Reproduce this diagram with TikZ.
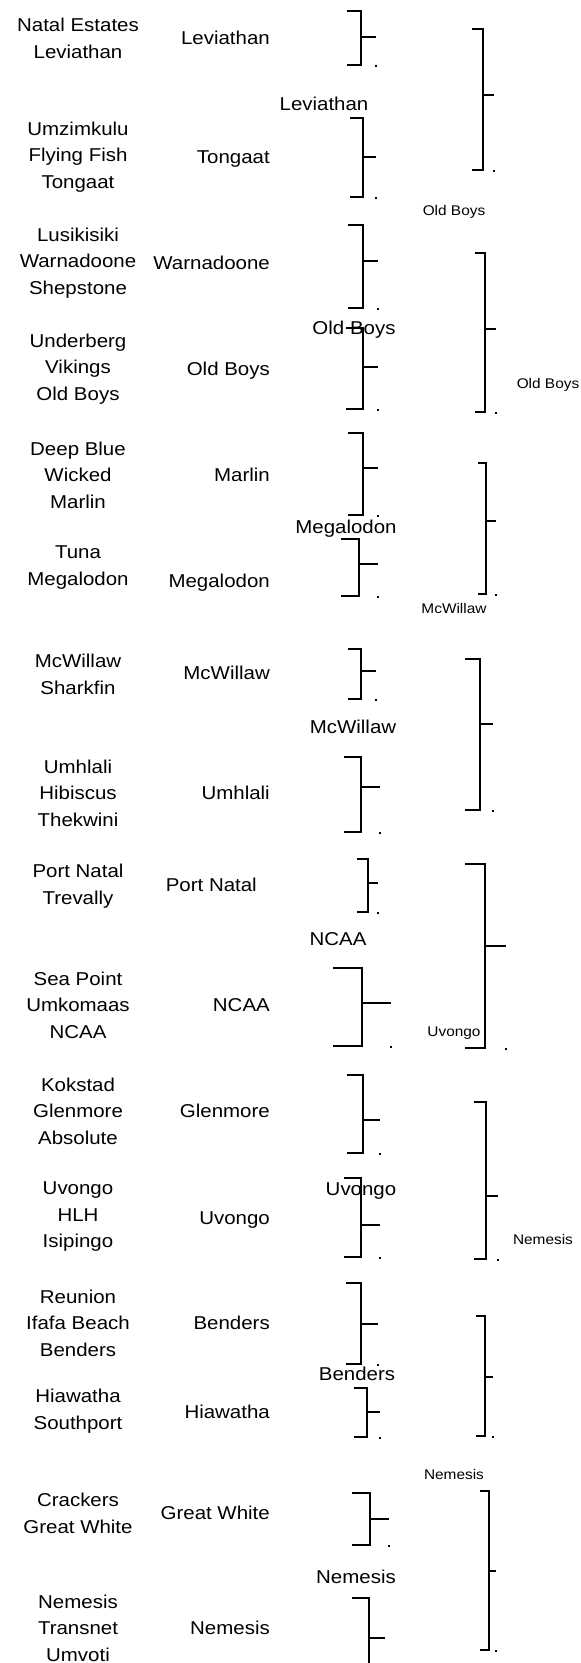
\documentclass[tikz,border=0pt]{standalone}
\usepackage{fontspec}
\setmainfont{Liberation Sans}[FakeStretch=1.1]
\newcommand\bkt[6]{%
  \draw[brk] (#1,#3) -- (#2,#3) -- (#2,#4) -- (#1,#4);
  \draw[brk] (#2,#5) -- (#6,#5);
  \fill (#6-1,#4) rectangle ++(2,2);}
\begin{document}
\begin{tikzpicture}[x=1pt,y=-1pt,
  big/.style={font=\fontsize{18.6}{26.5}\selectfont, inner sep=0pt, align=center},
  one/.style={font=\fontsize{18.6}{26.5}\selectfont, inner sep=0pt, text height=13.5pt, text depth=4pt},
  small/.style={font=\fontsize{14}{16}\selectfont, inner sep=0pt, text height=10pt, text depth=3pt},
  brk/.style={line width=1.6pt}]
\useasboundingbox (0,0) rectangle (581,1663);
\clip (0,0) rectangle (581,1663);
% left column
\node[big] (l1) at (78,38.5) {Natal Estates\\Leviathan};
\node[big] (l2) at (78,157) {Umzimkulu\\Flying Fish\\Tongaat};
\node[big] (l3) at (78,263) {Lusikisiki\\Warnadoone\\Shepstone};
\node[big] (l4) at (78,369) {Underberg\\Vikings\\Old Boys};
\node[big] (l5) at (78,475) {Deep Blue\\Wicked\\Marlin};
\node[big] (l6) at (78,567.5) {Tuna\\Megalodon};
\node[big] (l7) at (78,674.5) {McWillaw\\Sharkfin};
\node[big] (l8) at (78,793) {Umhlali\\Hibiscus\\Thekwini};
\node[big] (l9) at (78,886) {Port Natal\\Trevally};
\node[big] (l10) at (78,1005) {Sea Point\\Umkomaas\\NCAA};
\node[big] (l11) at (78,1111) {Kokstad\\Glenmore\\Absolute};
\node[big] (l12) at (78,1217) {Uvongo\\HLH\\Isipingo};
\node[big] (l13) at (78,1323) {Reunion\\Ifafa Beach\\Benders};
\node[big] (l14) at (78,1411) {Hiawatha\\Southport};
\node[big] (l15) at (78,1513.5) {Crackers\\Great White};
\node[big] (l16) at (78,1628) {Nemesis\\Transnet\\Umvoti};
% second column
\node[one,anchor=east] (s1) at (270,40) {Leviathan};
\node[one,anchor=east] (s2) at (270,159) {Tongaat};
\node[one,anchor=east] (s3) at (270,265) {Warnadoone};
\node[one,anchor=east] (s4) at (270,371) {Old Boys};
\node[one,anchor=east] (s5) at (270,477) {Marlin};
\node[one,anchor=east] (s6) at (270,583) {Megalodon};
\node[one,anchor=east] (s7) at (270,675) {McWillaw};
\node[one,anchor=east] (s8) at (270,795) {Umhlali};
\node[one,anchor=east] (s9) at (257,887) {Port Natal};
\node[one,anchor=east] (s10) at (270,1007) {NCAA};
\node[one,anchor=east] (s11) at (270,1113) {Glenmore};
\node[one,anchor=east] (s12) at (270,1220) {Uvongo};
\node[one,anchor=east] (s13) at (270,1325) {Benders};
\node[one,anchor=east] (s14) at (270,1414) {Hiawatha};
\node[one,anchor=east] (s15) at (270,1515) {Great White};
\node[one,anchor=east] (s16) at (270,1630) {Nemesis};
% third column
\node[one] (m1) at (324,106) {Leviathan};
\node[one] (m2) at (354,330) {Old Boys};
\node[one] (m3) at (346,529) {Megalodon};
\node[one] (m4) at (353,729) {McWillaw};
\node[one] (m5) at (338,941) {NCAA};
\node[one] (m6) at (361,1191) {Uvongo};
\node[one] (m7) at (357,1376) {Benders};
\node[one] (m8) at (356,1579) {Nemesis};
% small labels
\node[small] (n1) at (454,211.5) {Old Boys};
\node[small] (n2) at (548,384.5) {Old Boys};
\node[small] (n3) at (454,609.5) {McWillaw};
\node[small] (n4) at (454,1032.5) {Uvongo};
\node[small] (n5) at (543,1240.5) {Nemesis};
\node[small] (n6) at (454,1475.5) {Nemesis};
% brackets
\bkt{347}{361}{11}{65}{37}{376}
\bkt{350}{363}{118}{197}{157}{376}
\bkt{472}{483}{29}{170}{95}{494}
\bkt{348}{363}{225}{308}{261}{378}
\bkt{346}{363}{328}{409}{367}{378}
\bkt{475}{485}{253}{412}{329}{496}
\bkt{348}{363}{433}{515}{468}{378}
\bkt{341}{359}{539}{596}{564}{378}
\bkt{478}{486}{463}{594}{521}{496}
\bkt{348}{361}{649}{699}{671}{376}
\bkt{344}{361}{757}{832}{787}{380}
\bkt{465}{480}{659}{810}{724}{493}
\bkt{357}{368}{859}{912}{883}{378}
\bkt{333}{362}{968}{1046}{1003}{391}
\bkt{465}{485}{864}{1048}{946}{506}
\bkt{347}{363}{1075}{1153}{1120}{380}
\bkt{344}{361}{1178}{1257}{1225}{380}
\bkt{474}{486}{1102}{1259}{1196}{498}
\bkt{346}{361}{1283}{1364}{1324}{378}
\bkt{354}{367}{1388}{1437}{1412}{380}
\bkt{476}{485}{1316}{1436}{1377}{493}
\bkt{352}{370}{1493}{1545}{1519}{389}
\bkt{352}{369}{1598}{1700}{1638}{385}
\bkt{480}{489}{1491}{1650}{1571}{496}
\end{tikzpicture}
\end{document}
